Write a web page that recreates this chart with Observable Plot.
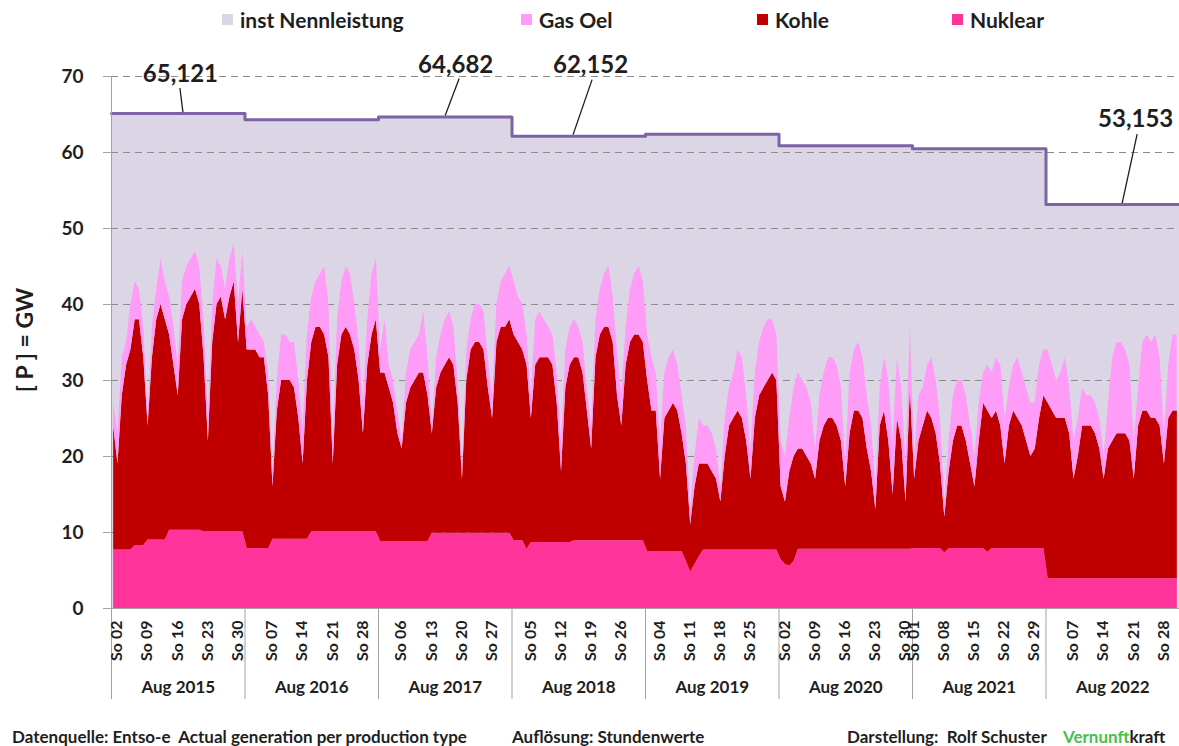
<!DOCTYPE html>
<html>
<head>
<meta charset="utf-8">
<script src="https://cdn.jsdelivr.net/npm/d3@7"></script>
<script src="https://cdn.jsdelivr.net/npm/@observablehq/plot@0.6"></script>
<style>
  body { margin: 0; background: #fff; }
  #wrap { position: relative; width: 1179px; height: 746px; overflow: hidden; font-family: Lato, "DejaVu Sans", sans-serif; color: #1e1e1e; }
  .leg { position: absolute; top: 7px; height: 24px; font-weight: bold; font-size: 21px; display: flex; align-items: center; white-space: nowrap; }
  .leg i { display: inline-block; width: 11px; height: 11px; margin-right: 7px; }
  #chart { position: absolute; left: 0; top: 40px; }
  #chart svg text { font-family: Lato, "DejaVu Sans", sans-serif; font-weight: bold; }
  #ytitle { position: absolute; left: 24px; top: 340px; transform: translate(-50%, -50%) rotate(-90deg); font-weight: bold; font-size: 23px; white-space: nowrap; }
  .foot { position: absolute; top: 726px; font-weight: bold; font-size: 17px; white-space: nowrap; }
</style>
</head>
<body>
<div id="wrap">
  <div id="legend"></div>
  <div id="ytitle">[ P ] = GW</div>
  <div id="chart"></div>
  <div class="foot" style="left:12px">Datenquelle: Entso-e&nbsp; Actual generation per production type</div>
  <div class="foot" style="left:512px">Auflösung: Stundenwerte</div>
  <div class="foot" style="left:847px">Darstellung:&nbsp; Rolf Schuster</div>
  <div class="foot" style="left:1063px"><span style="color:#47c04a">Vernunft</span>kraft</div>
</div>
<script>
// ---------- data ----------
const months = ["Aug 2015", "Aug 2016", "Aug 2017", "Aug 2018", "Aug 2019", "Aug 2020", "Aug 2021", "Aug 2022"];
// Sundays in August of each year (tick labels "So dd")
const sundays = [[2, 9, 16, 23, 30], [7, 14, 21, 28], [6, 13, 20, 27], [5, 12, 19, 26], [4, 11, 18, 25], [2, 9, 16, 23, 30], [1, 8, 15, 22, 29], [7, 14, 21, 28]];
// installed capacity (GW) per August
const nennleistung = [65.121, 64.3, 64.682, 62.152, 62.4, 60.9, 60.5, 53.153];
const annotatedYears = [0, 2, 3, 7];

// daily peak generation (GW), one array of 31 days per August
const nuklear = [
  [7.7,7.7,7.7,7.7,7.7,8.3,8.3,8.3,9.0,9.0,9.0,9.0,9.0,10.3,10.3,10.3,10.3,10.3,10.3,10.3,10.3,10.1,10.1,10.1,10.1,10.1,10.1,10.1,10.1,10.1,10.1],
  [7.9,7.9,7.9,7.9,7.9,7.9,9.1,9.1,9.1,9.1,9.1,9.1,9.1,9.1,9.1,10.1,10.1,10.1,10.1,10.1,10.1,10.1,10.1,10.1,10.1,10.1,10.1,10.1,10.1,10.1,10.1],
  [8.8,8.8,8.8,8.8,8.8,8.8,8.8,8.8,8.8,8.8,8.8,8.8,9.9,9.9,9.9,9.9,9.9,9.9,9.9,9.9,9.9,9.9,9.9,9.9,9.9,9.9,9.9,9.9,9.9,9.9,9.9],
  [8.9,8.9,8.9,7.8,8.7,8.7,8.7,8.7,8.7,8.7,8.7,8.7,8.7,8.7,8.9,8.9,8.9,8.9,8.9,8.9,8.9,8.9,8.9,8.9,8.9,8.9,8.9,8.9,8.9,8.9,8.9],
  [7.5,7.5,7.5,7.5,7.5,7.5,7.5,7.5,7.5,6.2,4.8,5.8,6.8,7.7,7.7,7.7,7.7,7.7,7.7,7.7,7.7,7.7,7.7,7.7,7.7,7.7,7.7,7.7,7.7,7.7,7.7],
  [6.4,5.8,5.6,6.2,7.8,7.8,7.8,7.8,7.8,7.8,7.8,7.8,7.8,7.8,7.8,7.8,7.8,7.8,7.8,7.8,7.8,7.8,7.8,7.8,7.8,7.8,7.8,7.8,7.8,7.8,7.8],
  [7.9,7.9,7.9,7.9,7.9,7.9,7.9,7.3,7.9,7.9,7.9,7.9,7.9,7.9,7.9,7.9,7.9,7.4,7.9,7.9,7.9,7.9,7.9,7.9,7.9,7.9,7.9,7.9,7.9,7.9,7.9],
  [3.9,3.9,3.9,3.9,3.9,3.9,3.9,3.9,3.9,3.9,3.9,3.9,3.9,3.9,3.9,3.9,3.9,3.9,3.9,3.9,3.9,3.9,3.9,3.9,3.9,3.9,3.9,3.9,3.9,3.9,3.9]
];
const kohle = [
  [16.3,11.3,20.3,24.3,26.3,29.7,29.7,24.7,15.0,24.0,29.0,31.0,29.0,25.7,21.7,17.7,27.7,29.7,30.7,31.7,29.7,22.9,11.9,24.9,29.9,30.9,27.9,30.9,32.9,24.9,31.9],
  [26.1,26.1,26.1,25.1,25.1,20.1,6.9,16.9,20.9,20.9,20.9,19.9,15.9,9.9,20.9,24.9,26.9,26.9,25.9,22.9,8.9,21.9,25.9,26.9,25.9,23.9,19.9,12.9,21.9,25.9,27.9],
  [22.2,22.2,20.2,18.2,14.2,12.2,18.2,20.2,21.2,22.2,22.2,19.2,13.1,19.1,21.1,22.1,23.1,22.1,17.1,7.1,20.1,24.1,25.1,25.1,24.1,19.1,15.1,25.1,27.1,27.1,28.1],
  [27.1,26.1,25.1,24.2,16.3,23.3,24.3,24.3,24.3,23.3,18.3,9.3,20.3,23.3,24.1,24.1,22.1,17.1,12.1,24.1,27.1,28.1,28.1,26.1,19.1,15.1,23.1,26.1,27.1,27.1,26.1],
  [22.5,18.5,18.5,9.5,17.5,18.5,19.5,18.5,15.5,12.8,6.2,10.2,12.2,11.3,11.3,10.3,9.3,6.3,12.3,16.3,17.3,18.3,17.3,14.3,9.3,17.3,20.3,21.3,22.3,23.3,22.3],
  [9.6,8.2,12.4,13.8,13.2,13.2,12.2,11.2,9.2,14.2,16.2,17.2,17.2,16.2,14.2,8.2,15.2,18.2,18.2,17.2,13.2,10.2,5.2,16.2,18.2,14.2,7.2,17.2,14.2,6.2,21.2],
  [9.1,14.1,16.1,18.1,17.1,15.1,11.1,4.7,10.1,14.1,16.1,16.1,14.1,11.1,8.1,14.1,19.1,18.6,17.1,18.1,16.1,11.1,16.1,18.1,17.1,16.1,14.1,12.1,13.1,17.1,20.1],
  [23.1,22.1,21.1,21.1,21.1,19.1,13.1,16.1,20.1,20.1,20.1,19.1,17.1,13.1,17.1,18.1,19.1,19.1,19.1,18.1,13.1,20.1,22.1,22.1,21.1,21.1,20.1,15.1,21.1,22.1,22.1]
];
const gasOel = [
  [3,4,5,3,6,5,4,4,1,4,4,6,5,5,5,4,5,5,5,5,5,5,3,5,6,4,4,5,5,5,5],
  [3,4,3,3,2,3,2,4,6,6,5,6,5,5,6,6,6,7,9,7,3,6,7,8,8,6,5,4,6,8,8],
  [3,7,3,3,3,1,4,5,5,5,8,5,1,4,5,6,6,5,3,1,4,4,5,5,5,4,3,5,6,7,7],
  [7,6,6,4,3,6,6,5,4,4,4,4,5,5,5,4,4,3,3,5,6,7,8,6,6,4,5,7,8,9,8],
  [6,7,5,5,6,7,7,6,5,5,2,4,6,5,5,5,4,2,5,5,6,8,8,6,4,6,7,8,8,7,6],
  [6,6,7,9,10,9,9,8,4,6,7,8,8,8,7,3,8,8,9,8,7,6,3,5,7,8,7,8,7,5,8],
  [3,6,5,6,8,7,6,2,4,6,6,6,6,5,4,5,4,6,6,7,8,6,5,6,8,7,7,7,6,7,6],
  [7,6,5,6,8,6,5,5,5,4,4,4,4,3,6,11,12,12,11,10,5,5,9,10,10,11,9,4,7,10,10]
];

// ---------- styles ----------
const C = {
  nenn: "#dbd5e6", gas: "#ff9cf8", kohle: "#c00000", nuk: "#ff3399",
  line: "#7e62a6", grid: "#8c8c8c", axis: "#a3a3a3", text: "#1e1e1e"
};
const DAYS = 31;
const annLayout = [
  {day: 16.7, dx: -3, dy: -39, lx: -3, ly: -25},
  {day: 15.6, dx: 10, dy: -52, lx: 14, ly: -38},
  {day: 14.3, dx: 17, dy: -71, lx: 19, ly: -56},
  {day: 17.8, dx: 13, dy: -85, lx: 15, ly: -70}
];

// legend
const legendItems = [
  {name: "inst Nennleistung", color: C.nenn, left: 222},
  {name: "Gas Oel", color: C.gas, left: 521},
  {name: "Kohle", color: C.kohle, left: 757},
  {name: "Nuklear", color: C.nuk, left: 952}
];
const legend = document.getElementById("legend");
for (const it of legendItems) {
  const d = document.createElement("div");
  d.className = "leg";
  d.style.left = it.left + "px";
  d.innerHTML = `<i style="background:${it.color}"></i>${it.name}`;
  legend.appendChild(d);
}

// ---------- tables built from the arrays ----------
const rows = [];
nuklear.forEach((arr, p) => arr.forEach((v, d) => {
  const x = p * DAYS + d + 0.5;
  rows.push({x, serie: "Nuklear", v});
  rows.push({x, serie: "Kohle", v: kohle[p][d]});
  rows.push({x, serie: "Gas Oel", v: gasOel[p][d]});
}));
const capRows = nennleistung.flatMap((c, p) => [{x: p * DAYS, c}, {x: (p + 1) * DAYS, c}]);

const sundayTicks = [];
const sundayLabel = new Map();
sundays.forEach((arr, p) => arr.forEach(day => {
  const x = p * DAYS + day - 1 + 0.3;
  sundayTicks.push(x);
  sundayLabel.set(x, "So " + String(day).padStart(2, "0"));
}));
const monthTicks = months.map((m, p) => p * DAYS + DAYS / 2);
const boundaryTicks = d3.range(0, months.length * DAYS + 1, DAYS);

const deFmt = d3.formatLocale({decimal: ",", thousands: ".", grouping: [3], currency: ["", "€"]}).format(".3f");

const annMarks = annotatedYears.map((p, i) => Plot.text([p], {
  x: q => q * DAYS + annLayout[i].day,
  y: q => nennleistung[q],
  text: q => deFmt(nennleistung[q]),
  dx: annLayout[i].dx, dy: annLayout[i].dy,
  fontSize: 24, fill: C.text
}));

const plot = Plot.plot({
  width: 1179, height: 668,
  marginLeft: 111, marginRight: 0, marginTop: 36, marginBottom: 100,
  style: {fontFamily: "Lato, 'DejaVu Sans', sans-serif", fontWeight: "bold", color: C.text, background: "transparent"},
  x: {domain: [0, months.length * DAYS], label: null},
  y: {domain: [0, 70], label: null},
  color: {domain: ["inst Nennleistung", "Gas Oel", "Kohle", "Nuklear"], range: [C.nenn, C.gas, C.kohle, C.nuk]},
  marks: [
    Plot.areaY(capRows, {x: "x", y1: 0, y2: "c", fill: C.nenn}),
    Plot.ruleY(d3.range(10, 71, 10), {stroke: C.grid, strokeDasharray: "7,5", strokeWidth: 1.1}),
    Plot.areaY(rows, Plot.stackY({x: "x", y: "v", fill: "serie", order: ["Nuklear", "Kohle", "Gas Oel"]})),
    Plot.lineY(capRows, {x: "x", y: "c", stroke: C.line, strokeWidth: 3}),
    Plot.ruleY([0], {stroke: C.axis}),
    Plot.ruleX([0], {stroke: C.axis, y1: 0, y2: 70}),
    Plot.axisY({ticks: d3.range(0, 71, 10), tickSize: 8, tickPadding: 20, fontSize: 19, stroke: C.axis, fill: C.text, label: null}),
    Plot.axisX({ticks: boundaryTicks, tickSize: 91, tickFormat: () => "", stroke: C.axis, label: null}),
    Plot.axisX({ticks: sundayTicks, tickSize: 0, tickPadding: 12, tickRotate: -90, tickFormat: x => sundayLabel.get(x), fontSize: 16, fill: C.text, label: null}),
    Plot.axisX({ticks: monthTicks, tickSize: 0, tickPadding: 72, tickFormat: x => months[Math.round((x - DAYS / 2) / DAYS)], fontSize: 17, fill: C.text, label: null}),
    ...annMarks
  ]
});

// leader lines of the annotations, positioned through the plot's scales
const sx = plot.scale("x"), sy = plot.scale("y");
const g = d3.select(plot).append("g").attr("stroke", C.text).attr("stroke-width", 1.3);
annotatedYears.forEach((p, i) => {
  const x0 = sx.apply(p * DAYS + annLayout[i].day), y0 = sy.apply(nennleistung[p]);
  g.append("line").attr("x1", x0).attr("y1", y0 - 1)
    .attr("x2", x0 + annLayout[i].lx).attr("y2", y0 + annLayout[i].ly);
});

document.getElementById("chart").appendChild(plot);
</script>
</body>
</html>
